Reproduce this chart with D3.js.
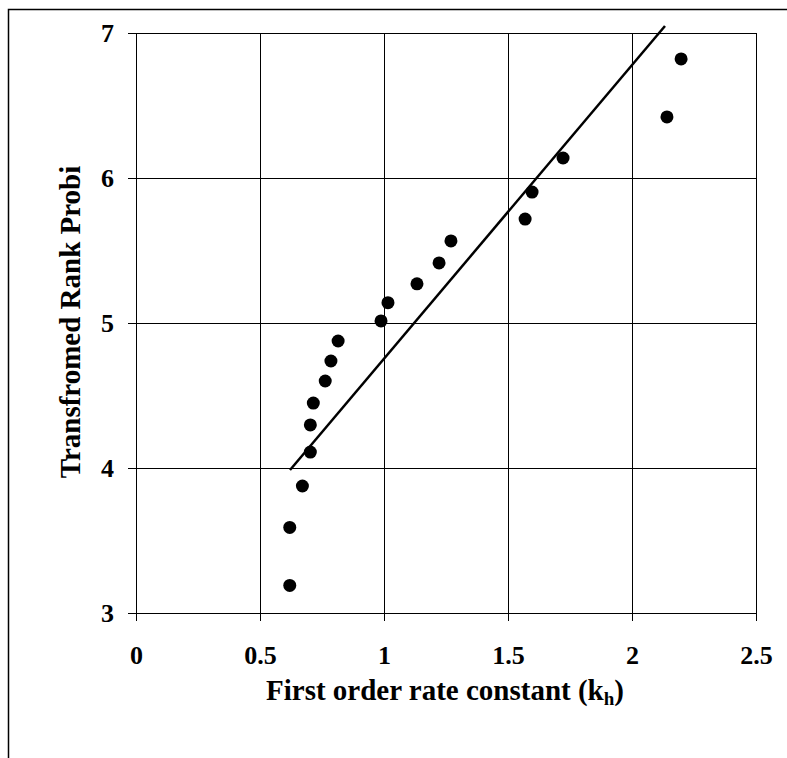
<!DOCTYPE html>
<meta charset="utf-8">
<style>
body { margin: 0; background: #fff; }
text { font-family: "Liberation Serif", "Times New Roman", serif; font-weight: bold; fill: #000; }
.grid line { stroke: #000; stroke-width: 1px; }
.fit { fill: none; stroke: #000; stroke-width: 2.5px; }
</style>
<body>
<script src="https://d3js.org/d3.v7.min.js"></script>
<script>

// data
var rateK = [0.62, 0.62, 0.671, 0.703, 0.703, 0.715, 0.763, 0.786, 0.815, 0.988, 1.016, 1.133, 1.222, 1.270, 1.569, 1.597, 1.722, 2.141, 2.198];
var probit = [3.19, 3.59, 3.876, 4.11, 4.297, 4.448, 4.6, 4.738, 4.876, 5.014, 5.14, 5.27, 5.414, 5.566, 5.717, 5.903, 6.138, 6.421, 6.821];
var fitX = [0.621, 2.133];
var fitY = [3.986, 7.048];
var xTicks = [0, 0.5, 1, 1.5, 2, 2.5];
var yTicks = [3, 4, 5, 6, 7];

var width = 787, height = 758;
var margin = {top: 33, right: 30, bottom: 145, left: 136};
var w = 756 - margin.left, h = 613 - margin.top;

var svg = d3.select("body").append("svg")
    .attr("width", width)
    .attr("height", height);

// outer frame (runs off the picture on the right and bottom)
svg.append("path")
    .attr("d", "M8.5,758 V9.5 H787")
    .attr("fill", "none")
    .attr("stroke", "#000")
    .attr("stroke-width", 1.5);

var g = svg.append("g").attr("transform", "translate(" + margin.left + "," + margin.top + ")");

var x = d3.scaleLinear().domain([0, 2.5]).range([0, w]);
var y = d3.scaleLinear().domain([3, 7]).range([h, 0]);

// grid
g.append("g").attr("class", "grid")
  .selectAll("line").data(xTicks).enter().append("line")
    .attr("x1", function(d) { return Math.round(x(d)) + 0.5; })
    .attr("x2", function(d) { return Math.round(x(d)) + 0.5; })
    .attr("y1", 0).attr("y2", h + 8);
g.append("g").attr("class", "grid")
  .selectAll("line").data(yTicks).enter().append("line")
    .attr("y1", function(d) { return Math.round(y(d)) + 0.5; })
    .attr("y2", function(d) { return Math.round(y(d)) + 0.5; })
    .attr("x1", -8).attr("x2", w);

// axes labels via d3 axes
var xAxis = g.append("g")
    .attr("transform", "translate(0," + h + ")")
    .call(d3.axisBottom(x).tickValues(xTicks).tickSize(0).tickPadding(33).tickFormat(d3.format("")));
xAxis.select(".domain").remove();
xAxis.selectAll("text").style("font-size", "26px").style("font-family", null);

var yAxis = g.append("g")
    .call(d3.axisLeft(y).tickValues(yTicks).tickSize(0).tickPadding(22).tickFormat(d3.format("d")));
yAxis.select(".domain").remove();
yAxis.selectAll("text").style("font-size", "26px").style("font-family", null);

// fitted line
var line = d3.line()
    .x(function(d) { return x(d[0]); })
    .y(function(d) { return y(d[1]); });
g.append("path")
    .datum(d3.zip(fitX, fitY))
    .attr("class", "fit")
    .attr("d", line);

// points
g.selectAll("circle").data(d3.zip(rateK, probit)).enter().append("circle")
    .attr("cx", function(d) { return x(d[0]); })
    .attr("cy", function(d) { return y(d[1]); })
    .attr("r", 6.5)
    .attr("fill", "#000");

// titles
var xt = svg.append("text")
    .attr("x", 445).attr("y", 700)
    .attr("text-anchor", "middle")
    .style("font-size", "29px");
xt.append("tspan").text("First order rate constant (k");
xt.append("tspan").text("h").style("font-size", "19px").attr("dy", 5);
xt.append("tspan").text(")").attr("dy", -5);

svg.append("text")
    .attr("transform", "translate(80,322) rotate(-90)")
    .attr("text-anchor", "middle")
    .style("font-size", "29px")
    .text("Transfromed Rank Probi");

</script>
</body>
